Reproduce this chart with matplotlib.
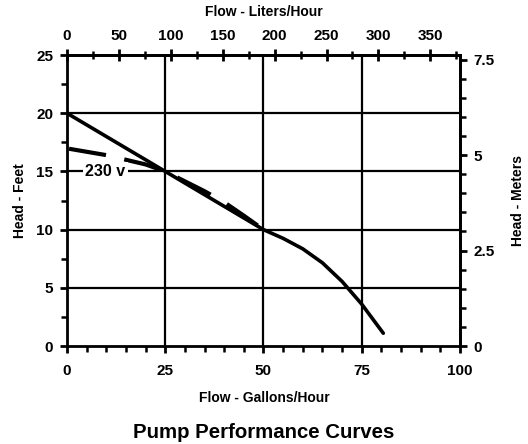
import matplotlib
matplotlib.use('Agg')
import matplotlib.pyplot as plt
from matplotlib.ticker import MultipleLocator, FuncFormatter

plt.rcParams['font.family'] = ['Liberation Sans', 'DejaVu Sans']
plt.rcParams['font.weight'] = 'bold'

# 115 v curve (solid) and 230 v curve (dashed), gallons/hour vs feet
flow_115 = [0, 25, 50, 55, 60, 65, 70, 75, 80.5]
head_115 = [20, 15, 10, 9.25, 8.35, 7.15, 5.55, 3.6, 1.1]
flow_230 = [0.5, 10, 20, 25, 30, 35, 40, 45, 50]
head_230 = [16.95, 16.4, 15.6, 15, 14.15, 13.3, 12.35, 11.2, 10]

GAL_TO_L = 3.785
FT_TO_M = 0.3048

fig = plt.figure(figsize=(5.28, 4.44), dpi=100)
ax = fig.add_axes([0.127, 0.2207, 0.744, 0.6553])

ax.set_xlim(0, 100)
ax.set_ylim(0, 25)

for x in [25, 50, 75]:
    ax.axvline(x, color='black', lw=1.6, zorder=1)
for y in [5, 10, 15, 20]:
    ax.axhline(y, color='black', lw=1.6, zorder=1)

ax.plot(flow_115, head_115, color='black', lw=2.6, solid_capstyle='round',
        solid_joinstyle='round', zorder=3)
ax.plot(flow_230, head_230, color='black', lw=3, dashes=(9, 4.5), zorder=3)
ax.text(9.8, 15, '230 v', fontsize=11.5, fontweight='bold', ha='center', va='center',
        bbox=dict(facecolor='white', edgecolor='none', pad=1.5), zorder=4)

for s in ax.spines.values():
    s.set_linewidth(2)

fmt = FuncFormatter(lambda v, p: '%g' % v)

ax.xaxis.set_major_locator(MultipleLocator(25))
ax.xaxis.set_minor_locator(MultipleLocator(5))
ax.yaxis.set_major_locator(MultipleLocator(5))
ax.yaxis.set_minor_locator(MultipleLocator(2.5))
ax.tick_params(which='major', direction='out', length=5, width=2, labelsize=11, pad=8)
ax.tick_params(which='minor', direction='out', length=4, width=1.8)
ax.tick_params(axis='y', which='major', pad=5)

top = ax.secondary_xaxis('top', functions=(lambda g: g * GAL_TO_L, lambda l: l / GAL_TO_L))
top.xaxis.set_major_locator(MultipleLocator(50))
top.xaxis.set_minor_locator(MultipleLocator(25))
top.xaxis.set_major_formatter(fmt)
top.tick_params(which='major', direction='inout', length=8, width=2, labelsize=11, pad=5)
top.tick_params(which='minor', direction='inout', length=6, width=1.8)
top.spines['top'].set_linewidth(2)

right = ax.secondary_yaxis('right', functions=(lambda f: f * FT_TO_M, lambda m: m / FT_TO_M))
right.yaxis.set_major_locator(MultipleLocator(2.5))
right.yaxis.set_minor_locator(MultipleLocator(0.5))
right.yaxis.set_major_formatter(fmt)
right.tick_params(which='major', direction='out', length=5, width=2, labelsize=11, pad=5)
right.tick_params(which='minor', direction='out', length=4, width=1.8)
right.spines['right'].set_linewidth(2)

fig.text(0.5, 1 - 398 / 444, 'Flow - Gallons/Hour', fontsize=10, fontweight='bold',
         ha='center', va='center')
fig.text(0.5, 1 - 12 / 444, 'Flow - Liters/Hour', fontsize=10, fontweight='bold',
         ha='center', va='center')
fig.text(20 / 528, 0.5 + 0.5 * (0.2207 - 0.1247), 'Head - Feet', fontsize=10,
         fontweight='bold', rotation=90, ha='center', va='center')
fig.text(518 / 528, 0.5 + 0.5 * (0.2207 - 0.1247), 'Head - Meters', fontsize=10,
         fontweight='bold', rotation=90, ha='center', va='center')
fig.text(0.5, 1 - 432 / 444, 'Pump Performance Curves', fontsize=14.7, fontweight='bold',
         ha='center', va='center')

fig.savefig('out.png', dpi=100)
